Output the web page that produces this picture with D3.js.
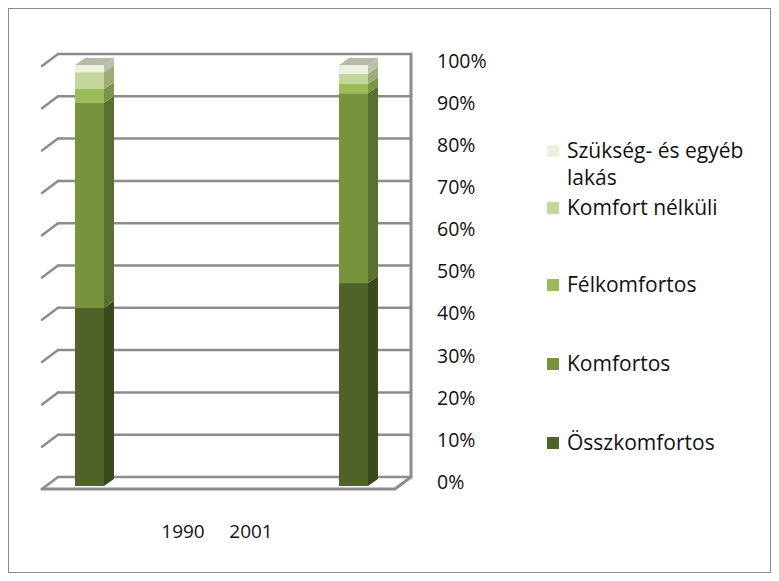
<!DOCTYPE html>
<html lang="hu">
<head>
<meta charset="utf-8">
<title>Lakásállomány komfortfokozat szerint</title>
<script src="https://cdn.jsdelivr.net/npm/d3@7"></script>
<style>
  body { margin: 0; background: #fff; }
  text { font-family: "Open Sans", "Noto Sans", sans-serif; fill: #111; }
</style>
</head>
<body>
<script>
// kategóriák és sorozatok (százalék)
var years = ["1990", "2001"];
var series = ["Összkomfortos", "Komfortos", "Félkomfortos", "Komfort nélküli", "Szükség- és egyéb lakás"];
var osszkomfortos = [42.3, 48.2];
var komfortos = [48.7, 45.1];
var felkomfortos = [3.3, 2.2];
var komfortNelkuli = [4.0, 2.4];
var szukseg = [1.7, 2.1];
var ticks = [0, 10, 20, 30, 40, 50, 60, 70, 80, 90, 100];

var colors = ["#4f6228", "#77933c", "#9bbb59", "#c3d69b", "#ebf1de"];
var sideColors = ["#3a4a1c", "#5a7030", "#7a9646", "#9cad7a", "#b9c0ab"];

var w = 779, h = 581;
var svg = d3.select("body").append("svg").attr("width", w).attr("height", h);

// keret
svg.append("rect").attr("x", 8.5).attr("y", 8.5).attr("width", 762).attr("height", 564)
   .attr("fill", "none").attr("stroke", "#8a8a8a").attr("stroke-width", 1);

// skálák
var depthX = 16, depthY = -12;
var yBack = d3.scaleLinear().domain([0, 100]).range([477, 54]);
var yBar = d3.scaleLinear().domain([0, 100]).range([486, 65]);
var yLab = d3.scaleLinear().domain([0, 100]).range([482, 61]);
var xBar = d3.scalePoint().domain(years).range([75, 339]);
var xLab = d3.scalePoint().domain(years).range([183, 251]);
var wallLeft = 58, wallRight = 411;
var barW = 29, bdx = 10, bdy = -7;

var grid = svg.append("g").attr("stroke", "#8c8c8c").attr("fill", "none").attr("stroke-linecap", "round");
ticks.forEach(function(t) {
  var y = yBack(t);
  grid.append("line").attr("x1", wallLeft).attr("x2", wallRight).attr("y1", y).attr("y2", y)
      .attr("stroke-width", 2.5);
  grid.append("line").attr("x1", wallLeft - depthX).attr("y1", y - depthY)
      .attr("x2", wallLeft).attr("y2", y).attr("stroke-width", 2.5);
});
// jobb oldalfal
grid.append("line").attr("x1", wallRight).attr("x2", wallRight)
    .attr("y1", yBack(100)).attr("y2", yBack(0)).attr("stroke-width", 3);
// padló eleje
grid.append("path").attr("stroke-width", 3)
    .attr("d", "M" + (wallLeft - depthX) + "," + (yBack(0) - depthY) +
               "H" + (wallRight - depthX) + "L" + wallRight + "," + yBack(0));

// halmozott oszlopok
var rows = years.map(function(y, i) {
  return { year: y, s0: osszkomfortos[i], s1: komfortos[i], s2: felkomfortos[i], s3: komfortNelkuli[i], s4: szukseg[i] };
});
var stack = d3.stack().keys(["s0", "s1", "s2", "s3", "s4"])(rows);

var bars = svg.append("g");
stack.forEach(function(layer, li) {
  layer.forEach(function(d) {
    var x0 = xBar(d.data.year), x1 = x0 + barW;
    var yb = yBar(d[0]), yt = yBar(d[1]);
    bars.append("rect").attr("x", x0).attr("y", yt).attr("width", barW).attr("height", yb - yt)
        .attr("fill", colors[li]);
    bars.append("path").attr("fill", sideColors[li])
        .attr("d", "M" + x1 + "," + yb + "L" + (x1 + bdx) + "," + (yb + bdy) +
                   "L" + (x1 + bdx) + "," + (yt + bdy) + "L" + x1 + "," + yt + "Z");
    if (li === stack.length - 1) {
      bars.append("path").attr("fill", "#b4bca6")
          .attr("d", "M" + x0 + "," + yt + "L" + (x0 + bdx) + "," + (yt + bdy) +
                     "L" + (x1 + bdx) + "," + (yt + bdy) + "L" + x1 + "," + yt + "Z");
    }
  });
});

// y tengely feliratok
svg.append("g").selectAll("text").data(ticks).enter().append("text")
   .attr("x", 437).attr("y", function(d) { return yLab(d); })
   .attr("dy", "0.35em").attr("font-size", 19.5)
   .text(function(d) { return d + "%"; });

// x tengely feliratok
svg.append("g").selectAll("text").data(years).enter().append("text")
   .attr("x", function(d) { return xLab(d); }).attr("y", 531)
   .attr("dy", "0.35em").attr("text-anchor", "middle").attr("font-size", 19)
   .text(function(d) { return d; });

// jelmagyarázat
var legendY = [151, 208, 285, 364, 443];
var legend = svg.append("g");
series.forEach(function(name, i) {
  var li = series.length - 1 - i;
  var cy = legendY[i];
  legend.append("rect").attr("x", 547).attr("y", cy - 6).attr("width", 12).attr("height", 12)
        .attr("fill", colors[li]);
  var t = legend.append("text").attr("x", 567).attr("y", cy).attr("font-size", 21);
  if (li === 4) {
    t.append("tspan").attr("x", 567).attr("dy", "0.35em").text("Szükség- és egyéb");
    t.append("tspan").attr("x", 567).attr("dy", 27).text("lakás");
  } else {
    t.attr("dy", "0.35em").text(series[li]);
  }
});
</script>
</body>
</html>
